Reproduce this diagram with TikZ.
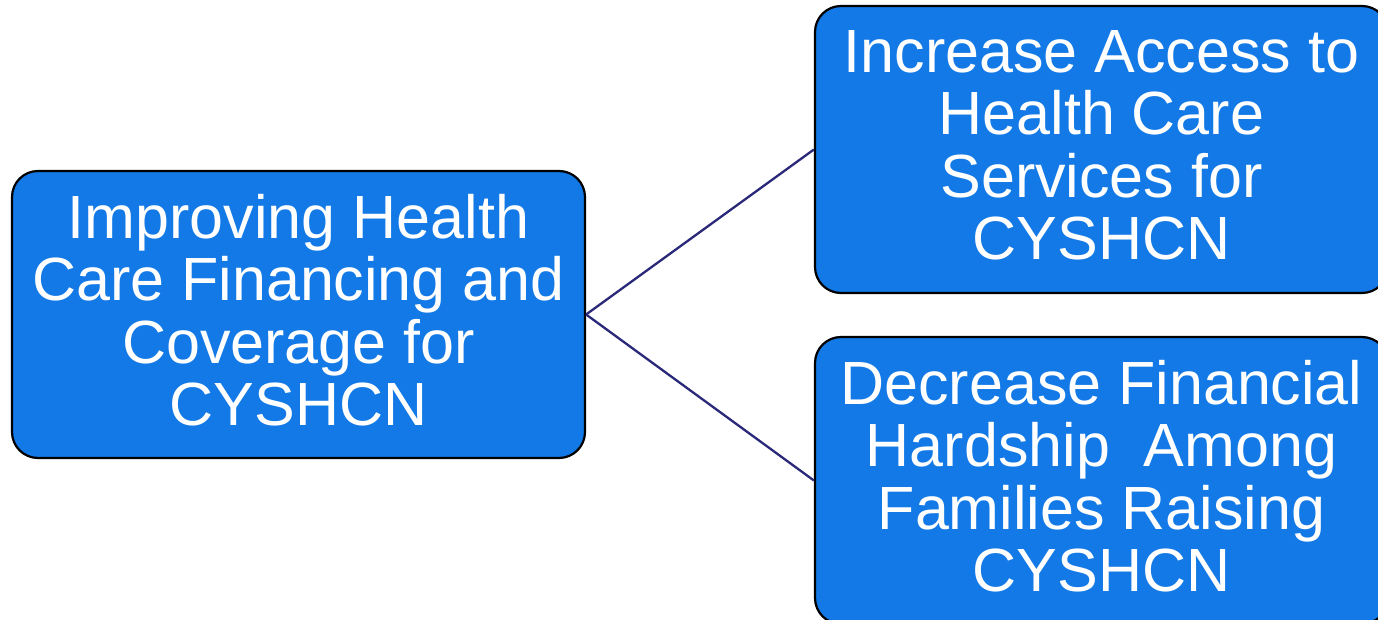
\documentclass[tikz,border=0pt]{standalone}
\usepackage{fontspec}
\setmainfont{Liberation Sans}
\begin{document}
\begin{tikzpicture}[x=1pt,y=1pt,
  goalbox/.style={draw=black, line width=2.2pt, fill=boxblue, rounded corners=26pt,
    minimum width=573pt, minimum height=287pt, inner sep=0pt, text depth=9pt,
    text=white, align=center, font=\fontsize{61}{62.5}\selectfont},
  link/.style={draw=linknavy, line width=2.3pt}]
\definecolor{boxblue}{HTML}{1279E6}
\definecolor{linknavy}{HTML}{2A2878}
\useasboundingbox (0,0) rectangle (1378,619);
\clip (0,0) rectangle (1378,619);
\node[goalbox] (main) at (298.5,304.5) {Improving Health\\Care Financing and\\Coverage for\\CYSHCN};
\node[goalbox] (access) at (1101.5,469.5) {Increase Access to\\Health Care\\Services for\\CYSHCN};
\node[goalbox] (hardship) at (1101.5,138.5) {Decrease Financial\\Hardship\ \ Among\\Families Raising\\CYSHCN};
\draw[link] (main.east) -- (access.west);
\draw[link] (main.east) -- (hardship.west);
\end{tikzpicture}
\end{document}
